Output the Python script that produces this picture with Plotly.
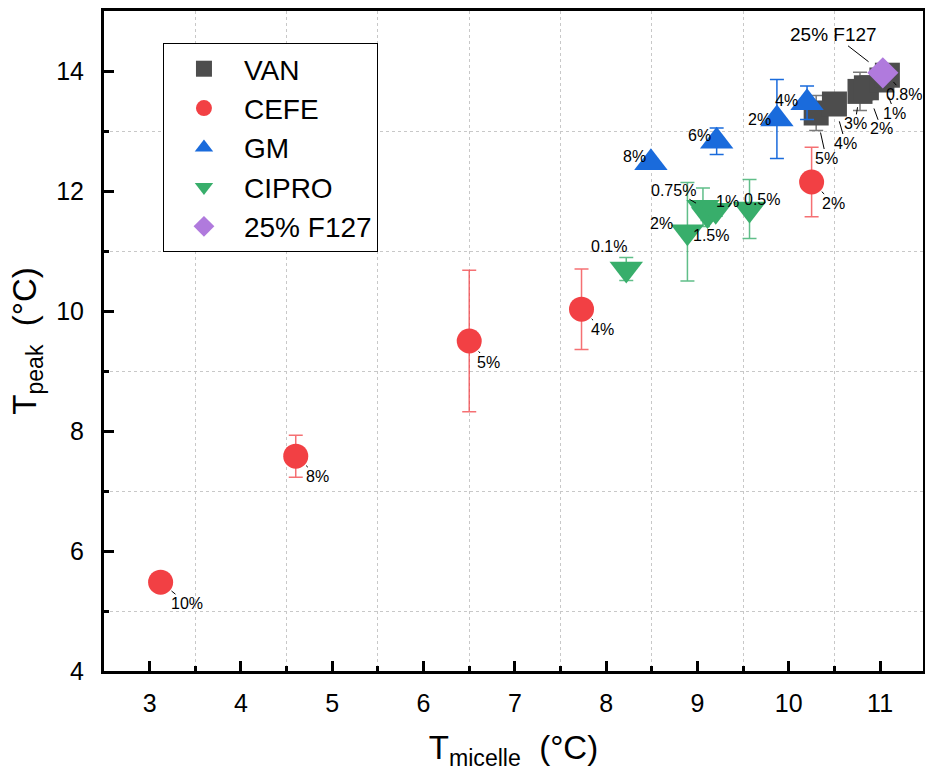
import plotly.graph_objects as go

# ---------------- data ----------------
VAN_X = [10.30, 10.50, 10.78, 10.85, 11.02, 11.08]
VAN_Y = [13.30, 13.45, 13.66, 13.72, 13.85, 13.93]
VAN_ERR = [0.29, 0.10, 0.32, 0.20, 0.15, 0.10]
VAN_LABELS = ["5%", "4%", "3%", "2%", "1%", "0.8%"]

CEFE_X = [3.12, 4.60, 6.50, 7.73, 10.25]
CEFE_Y = [5.48, 7.58, 9.50, 10.03, 12.15]
CEFE_ERR = [0.10, 0.35, 1.18, 0.67, 0.58]
CEFE_LABELS = ["10%", "8%", "5%", "4%", "2%"]

GM_X = [8.49, 9.21, 10.20, 9.87]
GM_Y = [12.47, 12.83, 13.47, 13.20]
GM_ERR = [0.05, 0.22, 0.28, 0.66]
GM_LABELS = ["8%", "6%", "4%", "2%"]

CIPRO_X = [8.22, 8.89, 9.06, 9.11, 9.20, 9.57]
CIPRO_Y = [10.70, 11.32, 11.73, 11.61, 11.68, 11.70]
CIPRO_ERR = [0.19, 0.82, 0.32, 0.10, 0.10, 0.49]
CIPRO_LABELS = ["0.1%", "2%", "0.75%", "1.5%", "1%", "0.5%"]

F127_X = [11.03]
F127_Y = [13.97]
F127_ERR = [0.10]
F127_LABELS = ["25% F127"]

X_TICKS = [3, 4, 5, 6, 7, 8, 9, 10, 11]
Y_TICKS = [4, 6, 8, 10, 12, 14]

# ---------------- styles ----------------
FONT = "Liberation Sans, Arial, sans-serif"

series = [
    dict(name="VAN", x=VAN_X, y=VAN_Y, err=VAN_ERR, labels=VAN_LABELS,
         symbol="square", size=25, color="#4D4D4D", ecolor="#7A7A7A"),
    dict(name="CEFE", x=CEFE_X, y=CEFE_Y, err=CEFE_ERR, labels=CEFE_LABELS,
         symbol="circle", size=25, color="#F24044", ecolor="rgba(242,64,68,0.75)"),
    dict(name="GM", x=GM_X, y=GM_Y, err=GM_ERR, labels=GM_LABELS,
         symbol="triangle-up", size=29, color="#1A6BDC", ecolor="#1A6BDC"),
    dict(name="CIPRO", x=CIPRO_X, y=CIPRO_Y, err=CIPRO_ERR, labels=CIPRO_LABELS,
         symbol="triangle-down", size=29, color="#38AE6B", ecolor="rgba(56,174,107,0.8)"),
    dict(name="25% F127", x=F127_X, y=F127_Y, err=F127_ERR, labels=F127_LABELS,
         symbol="diamond", size=24, color="#B07ADD", ecolor="#8A8A8A"),
]

# label placement (pixel offsets of text from the point, arrow standoff or None)
label_style = {
    "VAN": [(10, 45, 20), (11, 39, 18), (-5, 32, 16), (15, 41, 22), (13, 33, 18), (17, 19, 9)],
    "CEFE": [(26, 21, 14), (22, 20, 14), (19, 21, 14), (21, 20, 14), (22, 21, 14)],
    "GM": [(-16, -6, None), (-17, -6, None), (-21, -2, None), (-17, 0, None)],
    "CIPRO": [(-17, -23, None), (-26, -8, None), (-29, -17, 8), (3, 21, None), (12, -9, None), (12, -10, None)],
    "25% F127": [(-49, -38, 18)],
}

fig = go.Figure()
annotations = []
for s in series:
    fig.add_trace(go.Scatter(
        x=s["x"], y=s["y"], mode="markers", name=s["name"],
        marker=dict(symbol=s["symbol"], size=s["size"], color=s["color"], line=dict(width=0)),
        error_y=dict(type="data", array=s["err"], visible=True, color=s["ecolor"],
                     thickness=1.5, width=7),
    ))
    for (xv, yv, lab, st) in zip(s["x"], s["y"], s["labels"], label_style[s["name"]]):
        dx, dy, so = st
        fsize = 19 if s["name"] == "25% F127" else 16
        if so is None:
            annotations.append(dict(x=xv, y=yv, xref="x", yref="y", text=lab, showarrow=False,
                                    xshift=dx, yshift=-dy,
                                    font=dict(family=FONT, size=fsize, color="black")))
        else:
            annotations.append(dict(x=xv, y=yv, xref="x", yref="y", text=lab, showarrow=True,
                                    ax=dx, ay=dy, arrowhead=0, arrowwidth=1, arrowcolor="black",
                                    standoff=so, borderpad=0,
                                    font=dict(family=FONT, size=fsize, color="black")))

axis_common = dict(
    showline=True, linewidth=3, linecolor="black", mirror=True,
    ticks="inside", ticklen=10, tickwidth=2.5, tickcolor="black",
    showgrid=False, zeroline=False,
    tickfont=dict(family=FONT, size=25, color="black"),
)

fig.update_layout(
    width=925, height=774,
    margin=dict(l=104, r=2, t=11, b=103, autoexpand=False),
    paper_bgcolor="white", plot_bgcolor="white",
    font=dict(family=FONT, color="black"),
    showlegend=True,
    legend=dict(x=0.072, y=0.9515, xanchor="left", yanchor="top",
                bordercolor="black", borderwidth=1, bgcolor="white",
                font=dict(family=FONT, size=28, color="black"),
                itemsizing="trace", itemwidth=70, tracegroupgap=0),
    xaxis=dict(
        range=[2.5, 11.47], tickvals=X_TICKS, ticktext=[str(v) for v in X_TICKS],
        minor=dict(tick0=3.5, dtick=1, ticks="inside", ticklen=5, tickwidth=2.5, tickcolor="black",
                   showgrid=True, gridcolor="#C8C8C8", griddash="dot", gridwidth=1),
        title=dict(text="T<sub>micelle</sub>  (°C)", font=dict(family=FONT, size=33), standoff=20),
        ticklabelstandoff=8,
        **axis_common,
    ),
    yaxis=dict(
        range=[4, 15], tickvals=Y_TICKS, ticktext=[str(v) for v in Y_TICKS],
        minor=dict(tick0=5, dtick=2, ticks="inside", ticklen=5, tickwidth=2.5, tickcolor="black",
                   showgrid=True, gridcolor="#C8C8C8", griddash="dot", gridwidth=1),
        title=dict(text="T<sub>peak</sub>  (°C)", font=dict(family=FONT, size=33), standoff=10),
        ticklabelstandoff=12,
        **axis_common,
    ),
    annotations=annotations,
)

fig.write_html("out.html", config={"displayModeBar": False},
               post_script="document.body.style.margin='0';document.body.style.overflow='hidden';")
